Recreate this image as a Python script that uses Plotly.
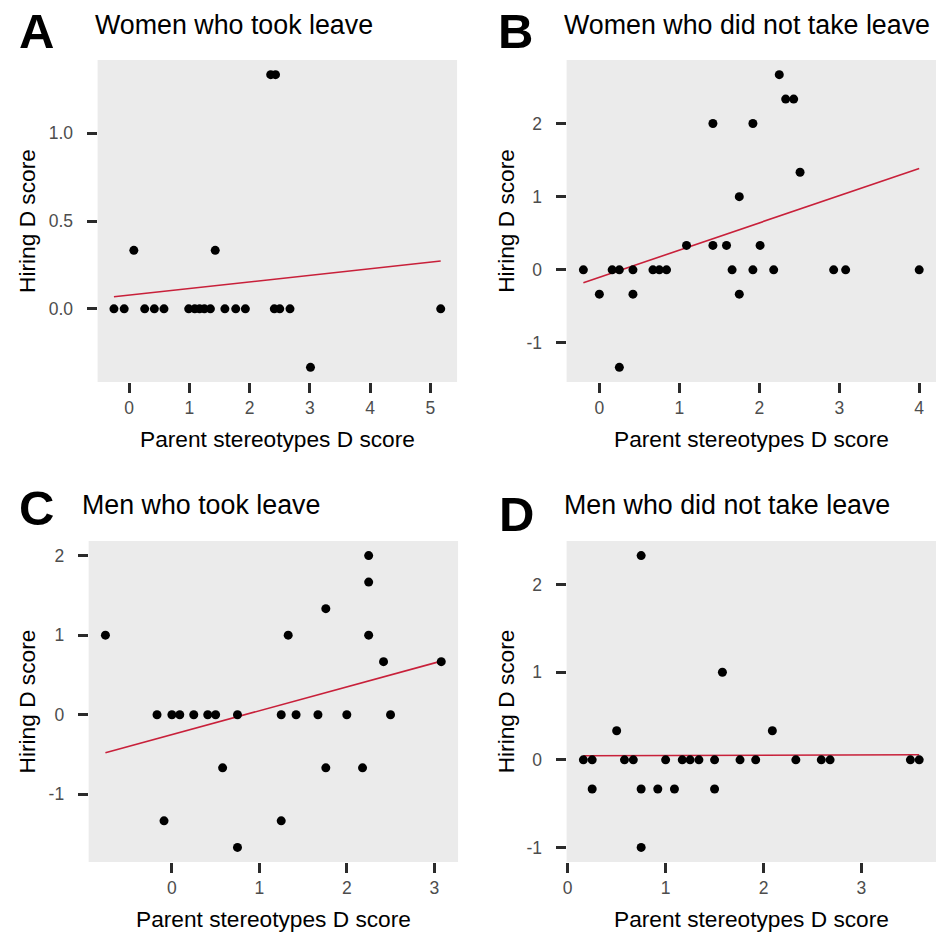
import numpy as np
import plotly.graph_objects as go

# ---------------- data ----------------
panel_tags = ["A", "B", "C", "D"]
panel_titles = ["Women who took leave", "Women who did not take leave",
                "Men who took leave", "Men who did not take leave"]
x_label = "Parent stereotypes D score"
y_label = "Hiring D score"

A_x = [-0.25, -0.08, 0.26, 0.42, 0.58, 0.99, 1.09, 1.17, 1.25, 1.35, 1.59, 1.77,
       1.93, 2.41, 2.50, 2.67, 5.17, 0.08, 1.43, 2.35, 2.43, 3.01]
A_y = [0, 0, 0, 0, 0, 0, 0, 0, 0, 0, 0, 0,
       0, 0, 0, 0, 0, 0.333, 0.333, 1.333, 1.333, -0.333]

B_x = [-0.20, 0.16, 0.25, 0.42, 0.67, 0.75, 0.84, 1.66, 1.92, 2.18, 2.93, 3.08, 4.00,
       0.00, 0.42, 1.75, 0.25, 1.09, 1.42, 1.59, 2.01, 1.75, 2.51, 1.42, 1.92,
       2.33, 2.43, 2.25]
B_y = [0, 0, 0, 0, 0, 0, 0, 0, 0, 0, 0, 0, 0,
       -0.333, -0.333, -0.333, -1.333, 0.333, 0.333, 0.333, 0.333, 1.0, 1.333, 2.0, 2.0,
       2.333, 2.333, 2.667]

C_x = [-0.76, 1.33, 2.25, -0.17, 0.00, 0.09, 0.25, 0.41, 0.50, 0.75, 1.25, 1.42,
       1.67, 2.00, 2.50, 2.25, 2.25, 1.76, 2.42, 3.08, 0.58, 1.76, 2.18, -0.09,
       1.25, 0.75]
C_y = [1, 1, 1, 0, 0, 0, 0, 0, 0, 0, 0, 0,
       0, 0, 0, 2.0, 1.667, 1.333, 0.667, 0.667, -0.667, -0.667, -0.667, -1.333,
       -1.333, -1.667]

D_x = [0.16, 0.25, 0.58, 0.67, 1.00, 1.17, 1.25, 1.34, 1.50, 1.76, 1.92, 2.33,
       2.59, 2.68, 3.50, 3.59, 0.25, 0.75, 0.92, 1.09, 1.50, 0.50, 2.09, 1.58,
       0.75, 0.75]
D_y = [0, 0, 0, 0, 0, 0, 0, 0, 0, 0, 0, 0,
       0, 0, 0, 0, -0.333, -0.333, -0.333, -0.333, -0.333, 0.333, 0.333, 1.0,
       2.333, -1.0]

A_xticks = [0, 1, 2, 3, 4, 5]
A_yticks = [0.0, 0.5, 1.0]
A_yticklabels = ["0.0", "0.5", "1.0"]
B_xticks = [0, 1, 2, 3, 4]
B_yticks = [-1, 0, 1, 2]
B_yticklabels = ["-1", "0", "1", "2"]
C_xticks = [0, 1, 2, 3]
C_yticks = [-1, 0, 1, 2]
C_yticklabels = ["-1", "0", "1", "2"]
D_xticks = [0, 1, 2, 3]
D_yticks = [-1, 0, 1, 2]
D_yticklabels = ["-1", "0", "1", "2"]

# ---------------- layout geometry (pixels) ----------------
W, H = 936, 932
panels = [
    dict(x=A_x, y=A_y, xt=A_xticks, yt=A_yticks, ytl=A_yticklabels,
         box=(94, 455, 60, 382), tag=(33, 31), title=(89, 25), ylab=23),
    dict(x=B_x, y=B_y, xt=B_xticks, yt=B_yticks, ytl=B_yticklabels,
         box=(565, 936, 60, 382), tag=(514, 31), title=(560, 25), ylab=504),
    dict(x=C_x, y=C_y, xt=C_xticks, yt=C_yticks, ytl=C_yticklabels,
         box=(85, 456, 541, 862), tag=(33, 508), title=(76, 505), ylab=23),
    dict(x=D_x, y=D_y, xt=D_xticks, yt=D_yticks, ytl=D_yticklabels,
         box=(565, 936, 541, 862), tag=(515, 514), title=(560, 505), ylab=504),
]

fig = go.Figure()
annotations = []
line_color = "#C8203A"
FONT = "Liberation Sans, Arial"

def expand(v):
    lo, hi = min(v), max(v)
    pad = 0.05 * (hi - lo)
    return [lo - pad, hi + pad]

for i, p in enumerate(panels):
    k = "" if i == 0 else str(i + 1)
    xa, ya = "x" + k, "y" + k
    x = np.array(p["x"], dtype=float)
    y = np.array(p["y"], dtype=float)
    slope, icpt = np.polyfit(x, y, 1)
    xl = np.array([x.min(), x.max()])
    fig.add_trace(go.Scatter(x=xl, y=icpt + slope * xl, mode="lines",
                             line=dict(color=line_color, width=1.6),
                             xaxis=xa, yaxis=ya, showlegend=False, hoverinfo="skip"))
    fig.add_trace(go.Scatter(x=x, y=y, mode="markers",
                             marker=dict(color="black", size=9),
                             xaxis=xa, yaxis=ya, showlegend=False))
    x0, x1, y0, y1 = p["box"]
    axis_common = dict(showgrid=False, zeroline=False, ticks="outside", ticklen=10,
                       tickwidth=2.6, tickcolor="#2b2b2b", showline=False,
                       tickfont=dict(family=FONT, size=17.5, color="#4d4d4d"))
    fig.layout["xaxis" + k] = dict(domain=[x0 / W, x1 / W], range=expand(p["x"]),
                                   tickvals=p["xt"], ticktext=[str(t) for t in p["xt"]],
                                   anchor=ya, **axis_common)
    fig.layout["yaxis" + k] = dict(domain=[1 - y1 / H, 1 - y0 / H], range=expand(p["y"]),
                                   tickvals=p["yt"], ticktext=p["ytl"], anchor=xa,
                                   ticklabelstandoff=10, **axis_common)
    # panel background
    fig.add_shape(type="rect", xref="paper", yref="paper",
                  x0=x0 / W, x1=x1 / W, y0=1 - y1 / H, y1=1 - y0 / H,
                  fillcolor="#EBEBEB", line=dict(width=0), layer="below")
    # tag letter
    annotations.append(dict(text="<b>" + panel_tags[i] + "</b>", xref="paper", yref="paper",
                            x=p["tag"][0] / W, y=1 - p["tag"][1] / H, xanchor="center",
                            yanchor="middle", showarrow=False,
                            font=dict(family=FONT, size=49, color="black")))
    # panel title
    annotations.append(dict(text=panel_titles[i], xref="paper", yref="paper",
                            x=p["title"][0] / W, y=1 - p["title"][1] / H, xanchor="left",
                            yanchor="middle", showarrow=False,
                            font=dict(family=FONT, size=26.8, color="black")))
    # x axis title
    annotations.append(dict(text=x_label, xref="paper", yref="paper",
                            x=(x0 + x1) / 2 / W, y=1 - (y1 + 57) / H, xanchor="center",
                            yanchor="middle", showarrow=False,
                            font=dict(family=FONT, size=22.7, color="black")))
    # y axis title
    annotations.append(dict(text=y_label, xref="paper", yref="paper", textangle=-90,
                            x=p["ylab"] / W, y=1 - (y0 + y1) / 2 / H, xanchor="center",
                            yanchor="middle", showarrow=False,
                            font=dict(family=FONT, size=22.7, color="black")))

fig.update_layout(width=W, height=H, margin=dict(l=0, r=0, t=0, b=0),
                  paper_bgcolor="white", plot_bgcolor="rgba(0,0,0,0)",
                  annotations=annotations)
fig.write_html("out.html", config={"displayModeBar": False},
               post_script="document.body.style.margin='0';document.body.style.overflow='hidden';")
